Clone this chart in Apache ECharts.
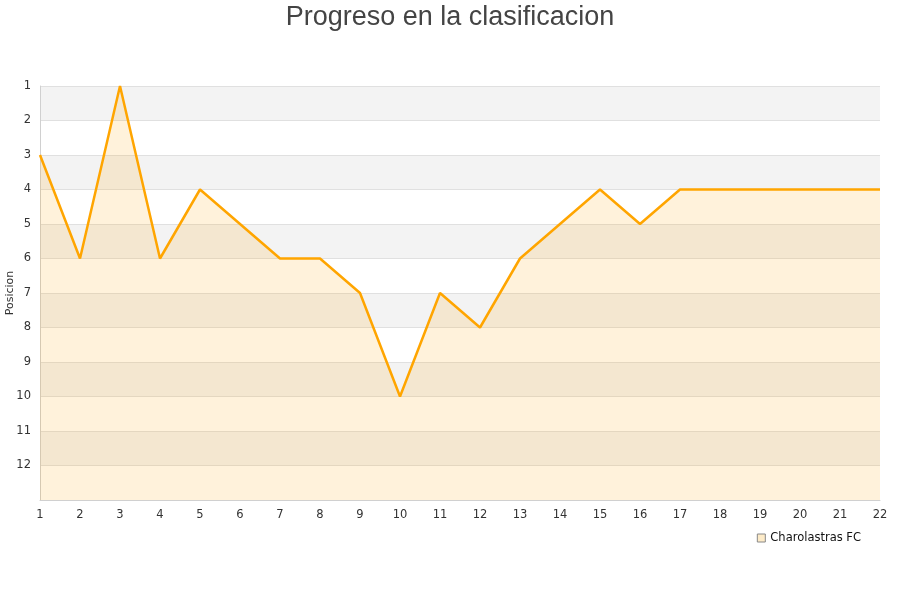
<!DOCTYPE html>
<html>
<head>
<meta charset="utf-8">
<script src="https://cdn.jsdelivr.net/npm/echarts@6/dist/echarts.min.js"></script>
<style>html,body{margin:0;padding:0;background:#fff}#c{width:900px;height:600px}</style>
</head>
<body>
<div id="c"></div>
<script>
var titleText = 'Progreso en la clasificacion';
var seriesName = 'Charolastras FC';
var jornadas = ['1','2','3','4','5','6','7','8','9','10','11','12','13','14','15','16','17','18','19','20','21','22'];
var posiciones = [3, 6, 1, 6, 4, 5, 6, 6, 7, 10, 7, 8, 6, 5, 4, 5, 4, 4, 4, 4, 4, 4];
var yMin = 1, yMax = 13;

var chart = echarts.init(document.getElementById('c'), null, {renderer: 'canvas'});
chart.setOption({
  animation: false,
  backgroundColor: '#ffffff',
  title: {
    text: titleText,
    left: 'center',
    top: -1,
    textStyle: {fontFamily: 'Liberation Sans', fontSize: 27, fontWeight: 'normal', color: '#444444'}
  },
  legend: {
    data: [{name: seriesName, icon: 'rect', itemStyle: {color: '#fdebc8', borderColor: '#888888', borderWidth: 1}}],
    right: 34,
    top: 527,
    itemWidth: 8,
    itemHeight: 8,
    itemGap: 10,
    textStyle: {fontFamily: 'DejaVu Sans', fontSize: 11.5, color: '#111111'}
  },
  grid: {left: 40, right: 20, top: 86, bottom: 100, containLabel: false, outerBoundsMode: 'none'},
  xAxis: {
    type: 'category',
    data: jornadas,
    boundaryGap: false,
    axisLine: {show: true, lineStyle: {color: '#d0d0d0'}},
    axisTick: {show: false},
    axisLabel: {fontFamily: 'DejaVu Sans', fontSize: 11.5, color: '#333333', margin: 9},
    splitLine: {show: false}
  },
  yAxis: {
    type: 'value',
    inverse: true,
    min: yMin,
    max: yMax,
    interval: 1,
    name: 'Posicion',
    nameLocation: 'middle',
    nameRotate: 90,
    nameGap: 24,
    nameMoveOverlap: false,
    nameTextStyle: {fontFamily: 'DejaVu Sans', fontSize: 11, color: '#333333'},
    axisLine: {show: true, lineStyle: {color: '#d0d0d0'}},
    axisTick: {show: false},
    axisLabel: {
      fontFamily: 'DejaVu Sans', fontSize: 11.5, color: '#333333', margin: 9,
      formatter: function (v) { return v === yMax ? '' : String(v); }
    },
    splitLine: {show: true, lineStyle: {color: '#e0e0e0'}},
    splitArea: {show: true, areaStyle: {color: ['#f3f3f3', '#ffffff']}}
  },
  series: [{
    name: seriesName,
    type: 'line',
    data: posiciones,
    showSymbol: false,
    symbol: 'none',
    lineStyle: {color: '#ffa500', width: 2.5},
    itemStyle: {color: '#ffa500'},
    areaStyle: {color: 'rgba(255,165,0,0.2)', origin: 'end'}
  }]
});
</script>
</body>
</html>
